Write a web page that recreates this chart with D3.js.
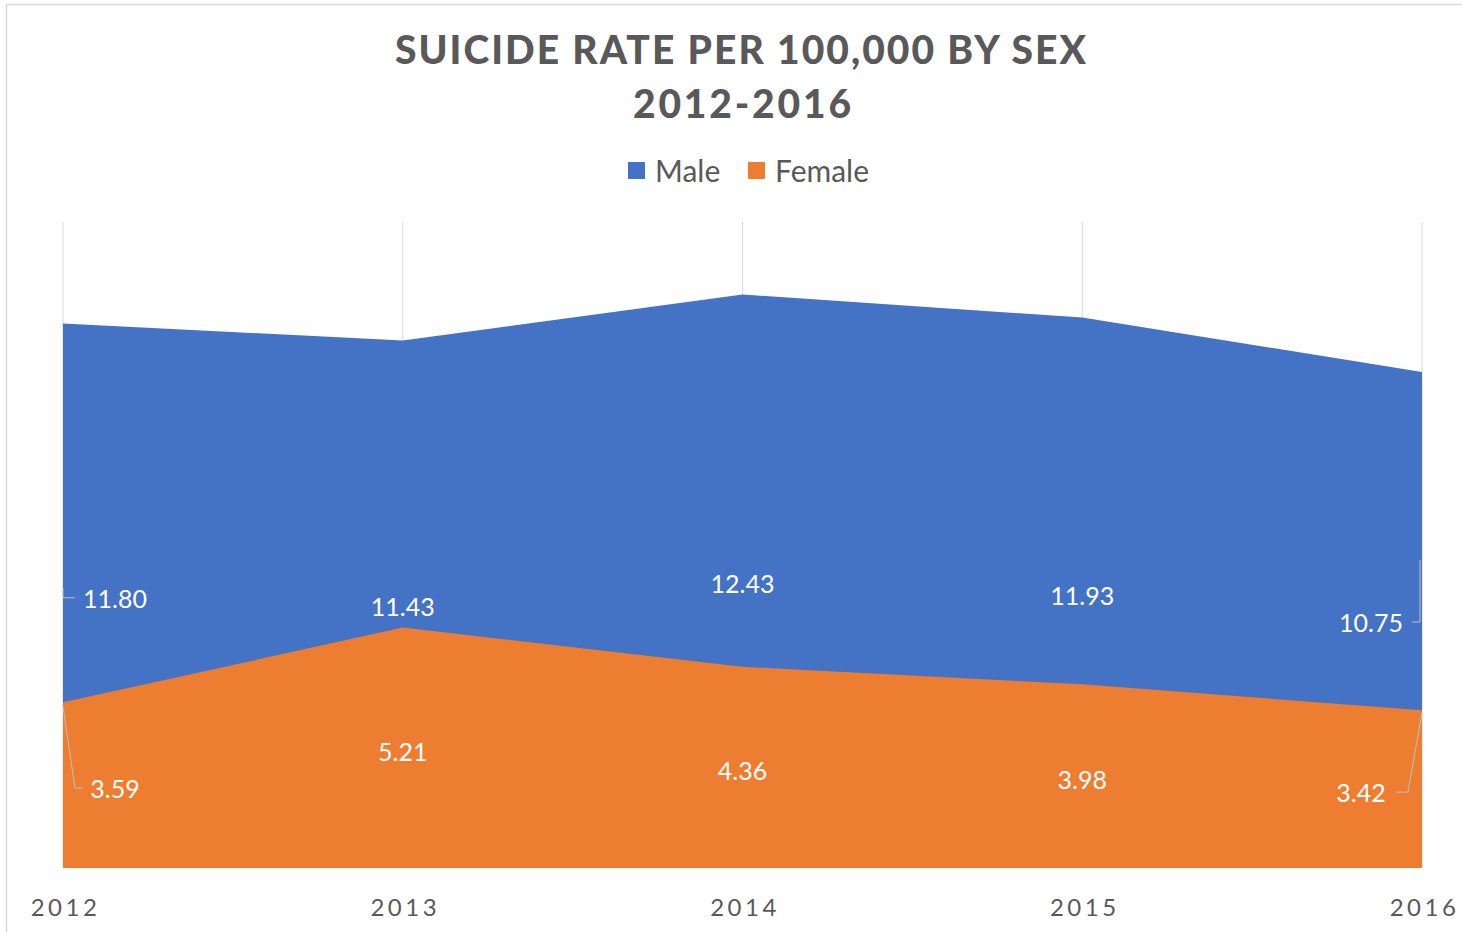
<!DOCTYPE html>
<html>
<head>
<meta charset="utf-8">
<script src="https://cdn.jsdelivr.net/npm/d3@7"></script>
<style>
  html, body { margin: 0; padding: 0; background: #fff; }
  svg { display: block; }
</style>
</head>
<body>
<svg id="chart" width="1462" height="932"></svg>
<script>
const years = ["2012", "2013", "2014", "2015", "2016"];
const maleValues = [11.80, 11.43, 12.43, 11.93, 10.75];
const femaleValues = [3.59, 5.21, 4.36, 3.98, 3.42];
const seriesNames = ["Male", "Female"];
const titleLines = ["SUICIDE RATE PER 100,000 BY SEX", "2012-2016"];

const W = 1462, H = 932;
const svg = d3.select("#chart");
const font = "Lato, 'Open Sans', 'DejaVu Sans', sans-serif";
const colors = { Male: "#4472C4", Female: "#ED7D31" };

// chart border
svg.append("rect").attr("x", 6.5).attr("y", 4.5).attr("width", W + 10).attr("height", H + 10)
  .attr("fill", "none").attr("stroke", "#d9d9d9").attr("stroke-width", 1.5);

const x = d3.scalePoint().domain(years).range([63, 1422]);
const y = d3.scaleLinear().domain([0, 14]).range([868, 222]);

// vertical gridlines
svg.append("g").selectAll("line").data(years).join("line")
  .attr("x1", d => x(d)).attr("x2", d => x(d))
  .attr("y1", y(14)).attr("y2", y(0))
  .attr("stroke", "#d9d9d9").attr("stroke-width", 1);

const maleData = years.map((yr, i) => ({ yr, v: maleValues[i] }));
const femaleData = years.map((yr, i) => ({ yr, v: femaleValues[i] }));

const area = d3.area().x(d => x(d.yr)).y0(y(0)).y1(d => y(d.v));
svg.append("path").datum(maleData).attr("d", area).attr("fill", colors.Male);
svg.append("path").datum(femaleData).attr("d", area).attr("fill", colors.Female);

// x axis labels
const xAxis = d3.axisBottom(x).tickSize(0).tickPadding(0);
const gx = svg.append("g").attr("transform", `translate(0,${y(0)})`).call(xAxis);
gx.select(".domain").remove();
gx.selectAll("text")
  .attr("y", 48).attr("dy", 0).attr("dx", "2px")
  .attr("font-family", font).attr("font-size", 24)
  .attr("letter-spacing", "3.5px")
  .attr("fill", "#595959");

// data labels
const lastIdx = years.length - 1;
function labelX(i, shift) {
  if (i === 0) return x(years[i]) + 52;
  if (i === lastIdx) return x(years[i]) - shift;
  return x(years[i]);
}
const labelStyle = sel => sel
  .attr("font-family", font).attr("font-size", 25)
  .attr("fill", "#ffffff").attr("text-anchor", "middle").attr("dominant-baseline", "central");

svg.append("g").selectAll("text").data(maleData).join("text")
  .attr("x", (d, i) => labelX(i, 51)).attr("y", d => y(d.v / 2) + 2)
  .text(d => d.v.toFixed(2)).call(labelStyle);
svg.append("g").selectAll("text").data(femaleData).join("text")
  .attr("x", (d, i) => labelX(i, 61)).attr("y", d => y(d.v / 2) + 3)
  .text(d => d.v.toFixed(2)).call(labelStyle);

// leader lines for end labels
const leader = svg.append("g").attr("fill", "none").attr("stroke", "#bfbfbf").attr("stroke-width", 1);
const x0 = x(years[0]), xN = x(years[lastIdx]);
leader.append("path").attr("d", `M${x0},${y(maleValues[0] / 2) - 8} L${x0},${y(maleValues[0] / 2) + 2} L${x0 + 12},${y(maleValues[0] / 2) + 2}`);
leader.append("path").attr("d", `M${x0},${y(femaleValues[0]) + 4} L${x0 + 12},${y(femaleValues[0] / 2) + 3} L${x0 + 20},${y(femaleValues[0] / 2) + 3}`);
leader.append("path").attr("d", `M${xN - 2},${y(maleValues[lastIdx] / 2) - 60} L${xN - 2},${y(maleValues[lastIdx] / 2) + 2} L${xN - 10},${y(maleValues[lastIdx] / 2) + 2}`);
leader.append("path").attr("d", `M${xN},${y(femaleValues[lastIdx]) + 2} L${xN - 14},${y(femaleValues[lastIdx] / 2) + 3} L${xN - 26},${y(femaleValues[lastIdx] / 2) + 3}`);

// title
const titleG = svg.append("g");
titleG.append("text").attr("x", 740.5).attr("y", 64)
  .attr("text-anchor", "middle").attr("font-family", font).attr("font-weight", 900)
  .attr("font-size", 39).attr("fill", "#595959")
  .attr("textLength", 691).attr("lengthAdjust", "spacing")
  .text(titleLines[0]);
titleG.append("text").attr("x", 742).attr("y", 118)
  .attr("text-anchor", "middle").attr("font-family", font).attr("font-weight", 900)
  .attr("font-size", 39).attr("fill", "#595959")
  .attr("textLength", 218).attr("lengthAdjust", "spacing")
  .text(titleLines[1]);

// legend
const legendPos = [{ sx: 628, tx: 655 }, { sx: 748, tx: 775 }];
const lg = svg.append("g");
seriesNames.forEach((name, i) => {
  lg.append("rect").attr("x", legendPos[i].sx).attr("y", 162).attr("width", 17).attr("height", 17)
    .attr("fill", colors[name]);
  lg.append("text").attr("x", legendPos[i].tx).attr("y", 170)
    .attr("dominant-baseline", "central")
    .attr("font-family", font).attr("font-size", 30).attr("fill", "#595959")
    .text(name);
});
</script>
</body>
</html>
